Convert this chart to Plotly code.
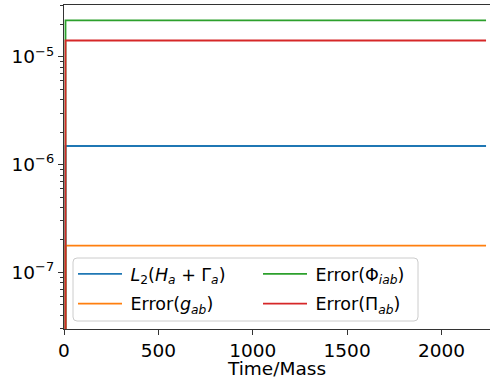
import plotly.graph_objects as go

# Data
time = [0, 8, 2236]
l2_constraint = [2.5e-8, 1.49e-6, 1.49e-6]
err_g = [2.5e-8, 1.77e-7, 1.77e-7]
err_phi = [2.5e-8, 2.18e-5, 2.18e-5]
err_pi = [2.5e-8, 1.42e-5, 1.42e-5]

names = [
    "<i>L</i><sub>2</sub>(<i>H</i><sub><i>a</i></sub> + Γ<sub><i>a</i></sub>)",
    "Error(<i>g</i><sub><i>ab</i></sub>)",
    "Error(Φ<sub><i>iab</i></sub>)",
    "Error(Π<sub><i>ab</i></sub>)",
]
series = [l2_constraint, err_g, err_phi, err_pi]
colors = ["#1f77b4", "#ff7f0e", "#2ca02c", "#d62728"]
legend_ids = ["legend", "legend", "legend2", "legend2"]

x_ticks = [0, 500, 1000, 1500, 2000]
y_tickvals = [1e-7, 1e-6, 1e-5]
y_ticktext = ["10<sup>−7</sup>", "10<sup>−6</sup>", "10<sup>−5</sup>"]

fig = go.Figure()
for i, (name, ys, c, lg) in enumerate(zip(names, series, colors, legend_ids)):
    fig.add_trace(go.Scatter(
        x=time, y=ys, mode="lines", name="\u2009" + name, legend=lg,
        legendgroup=f"g{i}",
        line=dict(color=c, width=1.8, shape="hv"),
    ))

# plot-area pixel geometry helpers (plot area: x 64..490, y 5..329)
def px_x(p):
    return (p - 64) / 426.0

def px_y(p):
    return (329 - p) / 324.0

# rounded legend frame
x0, x1, y0, y1 = px_x(73), px_x(418), px_y(321), px_y(258)
rx, ry = 4 / 426.0, 4 / 324.0
frame_path = (
    f"M {x0+rx},{y0} L {x1-rx},{y0} Q {x1},{y0} {x1},{y0+ry} "
    f"L {x1},{y1-ry} Q {x1},{y1} {x1-rx},{y1} "
    f"L {x0+rx},{y1} Q {x0},{y1} {x0},{y1-ry} "
    f"L {x0},{y0+ry} Q {x0},{y0} {x0+rx},{y0} Z"
)
fig.add_shape(type="path", path=frame_path, xref="paper", yref="paper",
              line=dict(color="#cccccc", width=1),
              fillcolor="rgba(255,255,255,0.8)", layer="above")

tick_font = dict(family="DejaVu Sans", size=18.5, color="black")
title_font = dict(family="DejaVu Sans", size=18.5, color="black")
legend_font = dict(family="DejaVu Sans", size=17.5, color="black")
legend_common = dict(
    orientation="v", yanchor="top", xanchor="left",
    bgcolor="rgba(0,0,0,0)", borderwidth=0, font=legend_font,
    tracegroupgap=4, itemwidth=44,
)
fig.update_layout(
    width=490, height=379,
    margin=dict(l=64, r=0, t=5, b=50),
    plot_bgcolor="white", paper_bgcolor="white",
    font=tick_font,
    showlegend=True,
    legend=dict(x=px_x(73), y=px_y(256), **legend_common),
    legend2=dict(x=px_x(258), y=px_y(256), **legend_common),
    xaxis=dict(
        range=[0, 2257], tickvals=x_ticks, ticks="outside", ticklen=5,
        tickcolor="#333", showline=True, linecolor="#333", linewidth=1.2,
        mirror=True, showgrid=False, zeroline=False,
        title=dict(text="Time/Mass", standoff=6, font=title_font),
        tickfont=tick_font,
    ),
    yaxis=dict(
        type="log", range=[-7.526, -4.518], tickvals=y_tickvals,
        ticktext=y_ticktext, ticks="outside", ticklen=5, tickcolor="#333",
        showline=True, linecolor="#333", linewidth=1.2, mirror=False,
        showgrid=False, zeroline=False, tickfont=tick_font,
        minor=dict(ticks="outside", ticklen=3, tickcolor="#333", dtick="D1",
                   showgrid=False),
    ),
)

fig.write_html("out.html")
